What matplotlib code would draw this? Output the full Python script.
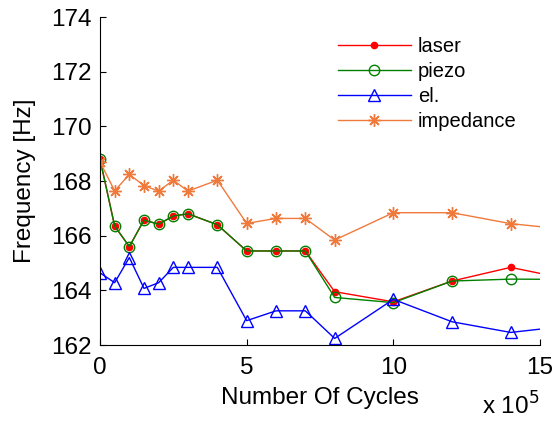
import numpy as np
import matplotlib
matplotlib.use("Agg")
import matplotlib.pyplot as plt

plt.rcParams['font.family'] = ['Liberation Sans', 'DejaVu Sans']

# cycles in units of 1e5; last point lies past the axis limit
cycles = [0, 0.5, 1, 1.5, 2, 2.5, 3, 4, 5, 6, 7, 8, 10, 12, 14, 16]

laser = [168.8, 166.35, 165.6, 166.57, 166.42, 166.72, 166.8, 166.4,
         165.44, 165.44, 165.44, 163.95, 163.58, 164.34, 164.84, 164.4]
piezo = [168.8, 166.35, 165.6, 166.57, 166.42, 166.72, 166.8, 166.4,
         165.44, 165.44, 165.44, 163.74, 163.55, 164.34, 164.41, 164.4]
el = [164.64, 164.28, 165.2, 164.07, 164.28, 164.84, 164.84, 164.84,
      162.89, 163.25, 163.25, 162.24, 163.67, 162.85, 162.46, 162.7]
impedance = [168.7, 167.64, 168.24, 167.83, 167.63, 168.03, 167.63, 168.03,
             166.45, 166.63, 166.63, 165.84, 166.84, 166.84, 166.44, 166.22]

fig = plt.figure(figsize=(5.6, 4.21), dpi=100)
ax = fig.add_axes([100/560, 1 - 345/421, 440/560, 328/421])

ax.plot(cycles, laser, color='#ff0000', marker='o', markersize=4.5, lw=1,
        markeredgecolor='#ff0000', label='laser')
ax.plot(cycles, piezo, color='#008000', marker='o', markersize=7.5, lw=1,
        markerfacecolor='none', markeredgecolor='#008000', label='piezo')
ax.plot(cycles, el, color='#0000ff', marker='^', markersize=9, lw=1,
        markerfacecolor='none', markeredgecolor='#0000ff', label='el.')
ax.plot(cycles, impedance, color='#f07a3c', marker=(8, 2, 0), markersize=9,
        lw=1, label='impedance')

ax.set_xlim(0, 15)
ax.set_ylim(162, 174)
ax.set_xticks([0, 5, 10, 15])
ax.set_yticks(np.arange(162, 175, 2))
ax.tick_params(direction='in', length=4, labelsize=17.5)
ax.tick_params(axis='x', pad=9)
ax.tick_params(axis='y', pad=6)
for s in ['top', 'right']:
    ax.spines[s].set_visible(False)

ax.set_xlabel('Number Of Cycles', fontsize=17.5)
ax.set_ylabel('Frequency [Hz]', fontsize=17.5)
ax.xaxis.set_label_coords(0.5, -0.128)
ax.yaxis.set_label_coords(-0.145, 0.5)
fig.text(539/560, 1 - 415/421, r'x 10$^5$', ha='right', va='baseline',
         fontsize=17.5)

ax.legend(loc='upper left', bbox_to_anchor=(0.5, 0.995), frameon=False,
          fontsize=14.5, handlelength=3.6, handletextpad=0.35,
          labelspacing=0.3)

fig.savefig('out.png', dpi=100)
